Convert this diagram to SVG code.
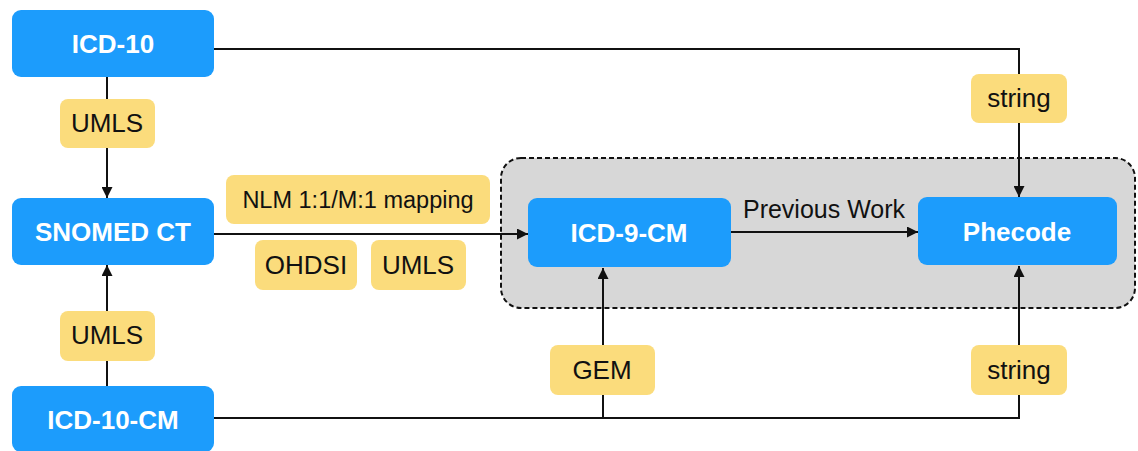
<svg xmlns="http://www.w3.org/2000/svg" width="1138" height="451" viewBox="0 0 1138 451">
<defs>
<marker id="arr" viewBox="0 0 10 10" refX="10" refY="5" markerWidth="6" markerHeight="5.5" markerUnits="strokeWidth" orient="auto">
<path d="M0,0 L10,5 L0,10 z" fill="#111"/>
</marker>
<style>
.node rect{fill:#1c9cfc;}
.node text{fill:#fff;font-family:"Liberation Sans",Arial,sans-serif;font-weight:bold;font-size:26px;text-anchor:middle;}
.lbl rect{fill:#fbdc7c;}
.lbl text{fill:#111;font-family:"Liberation Sans",Arial,sans-serif;font-size:26px;text-anchor:middle;}
.edge{fill:none;stroke:#111;stroke-width:2;}
.arrow{marker-end:url(#arr);}
</style>
</defs>
<rect id="group" x="501" y="158" width="634" height="150" rx="20" fill="#d7d7d7" stroke="#111" stroke-width="2" stroke-dasharray="5,3"/>
<g id="connectors">
<polyline class="edge arrow" points="214,49 1019,49 1019,197"/>
<line class="edge arrow" x1="107" y1="77" x2="107" y2="198"/>
<line class="edge arrow" x1="107" y1="386" x2="107" y2="265"/>
<line class="edge arrow" x1="214" y1="234" x2="528" y2="234"/>
<line class="edge arrow" x1="731" y1="232" x2="918" y2="232"/>
<polyline class="edge arrow" points="214,418 1019,418 1019,266"/>
<line class="edge arrow" x1="603" y1="418" x2="603" y2="268"/>
<text x="824" y="218" font-family="'Liberation Sans',Arial,sans-serif" font-size="25" fill="#111" text-anchor="middle">Previous Work</text>
</g>
<g id="icd10" class="node"><rect x="12" y="10" width="202" height="67" rx="9"/><text x="113" y="53">ICD-10</text></g>
<g id="snomed" class="node"><rect x="12" y="198" width="202" height="67" rx="9"/><text x="113" y="241">SNOMED CT</text></g>
<g id="icd10cm" class="node"><rect x="12" y="386" width="202" height="66" rx="9"/><text x="113" y="429">ICD-10-CM</text></g>
<g id="icd9cm" class="node"><rect x="528" y="198" width="203" height="69" rx="9"/><text x="629" y="242">ICD-9-CM</text></g>
<g id="phecode" class="node"><rect x="918" y="197" width="199" height="68" rx="9"/><text x="1017" y="241">Phecode</text></g>
<g id="lbl-umls1" class="lbl"><rect x="60" y="99" width="95" height="49" rx="8"/><text x="107" y="132">UMLS</text></g>
<g id="lbl-umls3" class="lbl"><rect x="60" y="311" width="95" height="50" rx="8"/><text x="107" y="344">UMLS</text></g>
<g id="lbl-nlm" class="lbl"><rect x="226" y="175" width="264" height="49" rx="8"/><text x="358" y="208" style="font-size:23.5px">NLM 1:1/M:1 mapping</text></g>
<g id="lbl-ohdsi" class="lbl"><rect x="255" y="240" width="102" height="50" rx="8"/><text x="306" y="274">OHDSI</text></g>
<g id="lbl-umls2" class="lbl"><rect x="371" y="240" width="95" height="50" rx="8"/><text x="418" y="274">UMLS</text></g>
<g id="lbl-string1" class="lbl"><rect x="971" y="74" width="96" height="49" rx="8"/><text x="1019" y="107">string</text></g>
<g id="lbl-gem" class="lbl"><rect x="550" y="345" width="105" height="50" rx="8"/><text x="602" y="379">GEM</text></g>
<g id="lbl-string2" class="lbl"><rect x="971" y="345" width="96" height="50" rx="8"/><text x="1019" y="379">string</text></g>
</svg>
